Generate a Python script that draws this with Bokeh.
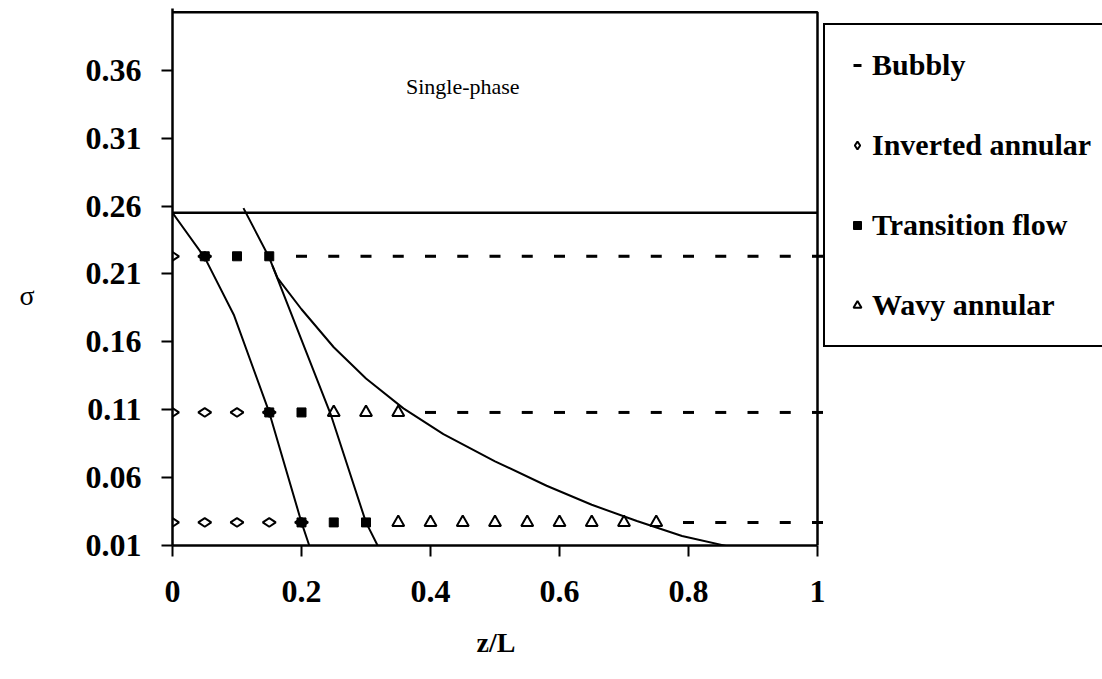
import math
from bokeh.plotting import figure
from bokeh.models import (Range1d, FixedTicker, CustomJSTickFormatter, Label,
                          Legend, LegendItem, Title)
from bokeh.embed import file_html
from bokeh.resources import INLINE

# ---------------- data ----------------
X_TICKS = [0, 0.2, 0.4, 0.6, 0.8, 1.0]
Y_TICKS = [0.01, 0.06, 0.11, 0.16, 0.21, 0.26, 0.31, 0.36]

# Bubbly (dash markers)
BUBBLY_Z = [0.20, 0.25, 0.30, 0.35, 0.40, 0.45, 0.50, 0.55, 0.60, 0.65, 0.70, 0.75, 0.80, 0.85, 0.90, 0.95, 1.00,
            0.40, 0.45, 0.50, 0.55, 0.60, 0.65, 0.70, 0.75, 0.80, 0.85, 0.90, 0.95, 1.00,
            0.80, 0.85, 0.90, 0.95, 1.00]
BUBBLY_S = [0.223, 0.223, 0.223, 0.223, 0.223, 0.223, 0.223, 0.223, 0.223, 0.223, 0.223, 0.223, 0.223, 0.223, 0.223, 0.223, 0.223,
            0.108, 0.108, 0.108, 0.108, 0.108, 0.108, 0.108, 0.108, 0.108, 0.108, 0.108, 0.108, 0.108,
            0.027, 0.027, 0.027, 0.027, 0.027]

# Inverted annular (open diamonds)
INVERTED_Z = [0.00, 0.05,
              0.00, 0.05, 0.10, 0.15,
              0.00, 0.05, 0.10, 0.15, 0.20]
INVERTED_S = [0.223, 0.223,
              0.108, 0.108, 0.108, 0.108,
              0.027, 0.027, 0.027, 0.027, 0.027]

# Transition flow (filled squares)
TRANSITION_Z = [0.05, 0.10, 0.15,
                0.15, 0.20,
                0.20, 0.25, 0.30]
TRANSITION_S = [0.223, 0.223, 0.223,
                0.108, 0.108,
                0.027, 0.027, 0.027]

# Wavy annular (open triangles)
WAVY_Z = [0.25, 0.30, 0.35,
          0.35, 0.40, 0.45, 0.50, 0.55, 0.60, 0.65, 0.70, 0.75]
WAVY_S = [0.108, 0.108, 0.108,
          0.027, 0.027, 0.027, 0.027, 0.027, 0.027, 0.027, 0.027, 0.027]

# Boundary curves
SINGLE_Z = [0.0, 1.0]
SINGLE_S = [0.255, 0.255]

CURVE_A_Z = [0.0, 0.05, 0.095, 0.15, 0.20, 0.212]
CURVE_A_S = [0.255, 0.222, 0.180, 0.108, 0.027, 0.010]

CURVE_B_Z = [0.11, 0.15, 0.245, 0.30, 0.318]
CURVE_B_S = [0.2585, 0.222, 0.107, 0.027, 0.010]

CURVE_C_Z = [0.155, 0.163, 0.20, 0.25, 0.30, 0.358, 0.42, 0.50, 0.58, 0.65, 0.72, 0.79, 0.865]
CURVE_C_S = [0.216, 0.207, 0.184, 0.156, 0.133, 0.111, 0.092, 0.072, 0.054, 0.040, 0.028, 0.017, 0.009]

# plot frame (top and right edges of the chart box)
FRAME_Z = [0.0, 1.0, 1.0]
FRAME_S = [0.4027, 0.4027, 0.01]

SERIF = "Liberation Serif"

p = figure(width=1102, height=679,
           x_range=Range1d(0, 1.44186), y_range=Range1d(0.01, 0.4055),
           output_backend="svg", toolbar_location=None,
           min_border_left=172, min_border_right=0,
           min_border_top=8, min_border_bottom=134)
p.grid.visible = False
p.outline_line_color = None
p.background_fill_color = "white"
p.border_fill_color = "white"

for ax in (p.xaxis[0], p.yaxis[0]):
    ax.axis_line_width = 2.5
    ax.axis_line_color = "black"
    ax.major_tick_line_width = 2
    ax.major_tick_line_color = "black"
    ax.major_tick_out = 11
    ax.major_tick_in = 0
    ax.minor_tick_out = 0
    ax.minor_tick_in = 0
    ax.major_label_text_font = SERIF
    ax.major_label_text_font_style = "bold"
    ax.major_label_text_font_size = "32px"
    ax.major_label_text_color = "black"
    ax.axis_label_text_font = SERIF
    ax.axis_label_text_color = "black"
    ax.axis_label_text_font_size = "28px"

p.xaxis.bounds = (0, 1)
p.xaxis.ticker = FixedTicker(ticks=X_TICKS)
p.xaxis.formatter = CustomJSTickFormatter(code="return String(Math.round(tick*10)/10)")
p.xaxis.major_label_standoff = 24

p.yaxis.ticker = FixedTicker(ticks=Y_TICKS)
p.yaxis.formatter = CustomJSTickFormatter(code="return tick.toFixed(2)")
p.yaxis.major_label_standoff = 20
p.yaxis.axis_label = "\nσ"
p.yaxis.axis_label_orientation = "horizontal"
p.yaxis.axis_label_text_font_style = "normal"
p.yaxis.axis_label_standoff = 48

# x-axis title, centred under the plotting area (0..1)
p.add_layout(Title(text="z/L", align="left", offset=304, standoff=40,
                   text_font=SERIF, text_font_style="bold",
                   text_font_size="28px", text_color="black"), "below")

# frame edges and boundaries
p.line(FRAME_Z, FRAME_S, line_color="black", line_width=2.5)
p.line(SINGLE_Z, SINGLE_S, line_color="black", line_width=2.5)
p.line(CURVE_A_Z, CURVE_A_S, line_color="black", line_width=2)
p.line(CURVE_B_Z, CURVE_B_S, line_color="black", line_width=2)
p.line(CURVE_C_Z, CURVE_C_S, line_color="black", line_width=2)

r_bub = p.scatter(BUBBLY_Z, BUBBLY_S, marker="dash", size=11,
                  line_color="black", line_width=3)
r_inv = p.scatter(INVERTED_Z, INVERTED_S, marker="diamond", angle=math.pi / 2,
                  size=13, fill_color=None, line_color="black", line_width=2)
r_tr = p.scatter(TRANSITION_Z, TRANSITION_S, marker="square", size=9,
                 fill_color="black", line_color="black", line_width=1)
r_wavy = p.scatter(WAVY_Z, WAVY_S, marker="triangle", size=12,
                   fill_color=None, line_color="black", line_width=2)

legend = Legend(items=[LegendItem(label="Bubbly", renderers=[r_bub]),
                       LegendItem(label="Inverted annular", renderers=[r_inv]),
                       LegendItem(label="Transition flow", renderers=[r_tr]),
                       LegendItem(label="Wavy annular", renderers=[r_wavy])],
                location=(651, 198), margin=0, padding=22, spacing=44,
                label_height=36, glyph_height=36, glyph_width=20,
                label_standoff=5,
                label_text_font=SERIF, label_text_font_style="bold",
                label_text_font_size="30px", label_text_color="black",
                border_line_color="black", border_line_width=2.5,
                border_line_alpha=1.0,
                background_fill_color="white", background_fill_alpha=1.0)
p.add_layout(legend)

p.add_layout(Label(x=0.45, y=0.348, text="Single-phase", text_font=SERIF,
                   text_font_size="22px", text_align="center",
                   text_baseline="middle", text_color="black"))

open("out.html", "w").write(file_html(p, INLINE))
